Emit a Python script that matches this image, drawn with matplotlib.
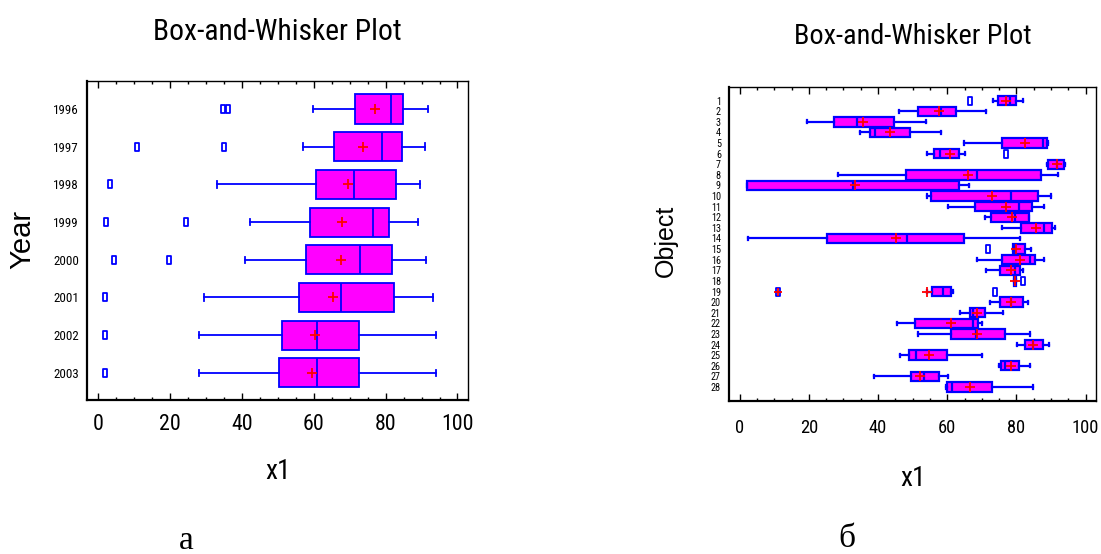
import numpy as np
import matplotlib
matplotlib.use("Agg")
import matplotlib.pyplot as plt
from matplotlib.path import Path
from matplotlib.ticker import MultipleLocator
from matplotlib import font_manager as fm
from matplotlib.font_manager import FontProperties

# ---------------- data: panel (а) ----------------
years = ["1996", "1997", "1998", "1999", "2000", "2001", "2002", "2003"]
whislo_a = [59.9, 56.9, 33.2, 42.3, 40.9, 29.5, 28.2, 28.2]
q1_a = [71.6, 65.6, 60.7, 58.9, 57.9, 55.8, 51.3, 50.3]
med_a = [81.6, 78.9, 71.3, 76.6, 72.9, 67.6, 61.0, 61.0]
q3_a = [84.9, 84.5, 83.0, 80.9, 81.9, 82.2, 72.7, 72.7]
whishi_a = [91.9, 90.9, 89.5, 89.0, 91.3, 93.1, 93.9, 93.9]
mean_a = [77.0, 73.6, 69.4, 67.9, 67.6, 65.3, 60.3, 59.5]
out_a = [[34.7, 36.1], [10.9, 34.9], [3.2], [2.2, 24.5], [4.3, 19.6], [1.9], [1.9], [1.9]]

# ---------------- data: panel (б) ----------------
objects = [str(i) for i in range(1, 29)]
whislo_b = [73.1, 46.0, 19.5, 34.8, 64.9, 54.0, 88.8, 28.3, 2.0, 54.0, 60.3, 71.0, 75.8, 2.3,
            78.9, 68.5, 71.2, 79.4, 54.1, 72.3, 63.6, 45.6, 51.5, 80.1, 46.3, 75.0, 38.7, 59.6]
q1_b = [74.8, 51.5, 27.3, 37.6, 75.9, 56.2, 89.2, 48.0, 2.0, 55.3, 68.0, 72.6, 81.2, 25.3,
        78.9, 75.9, 75.3, 79.4, 55.6, 75.3, 66.5, 50.6, 61.0, 82.6, 48.9, 75.6, 49.6, 59.9]
med_b = [78.1, 58.2, 33.9, 39.2, 87.7, 57.9, 91.6, 68.7, 32.8, 78.4, 80.6, 79.6, 88.0, 48.3,
         79.5, 84.0, 79.6, 79.7, 58.9, 78.4, 67.5, 67.4, 68.3, 84.9, 51.0, 76.7, 53.2, 61.5]
q3_b = [80.0, 62.6, 44.5, 49.3, 88.7, 63.3, 93.6, 87.0, 63.5, 86.3, 84.6, 83.6, 90.2, 64.7,
        82.6, 85.3, 80.9, 80.0, 61.0, 81.9, 71.0, 68.9, 76.8, 87.6, 59.9, 80.6, 57.5, 72.9]
whishi_b = [81.9, 71.1, 53.8, 58.1, 89.0, 65.1, 94.0, 92.0, 66.2, 90.1, 88.0, 83.6, 91.0, 81.0,
            84.3, 88.0, 82.0, 80.0, 61.7, 83.2, 76.1, 70.1, 84.0, 89.3, 70.1, 84.0, 60.1, 84.9]
mean_b = [77.0, 57.7, 35.7, 43.4, 82.4, 60.8, 91.6, 66.0, 33.2, 72.9, 77.0, 78.6, 85.7, 45.1,
          79.8, 81.0, 78.4, 79.7, 54.1, 78.4, 68.7, 61.1, 68.7, 84.9, 54.6, 78.3, 52.2, 66.6]
out_b = [[66.5], [], [], [], [], [76.9], [], [], [], [], [], [], [], [],
         [71.8], [], [], [81.8], [73.8, 11.0], [], [], [], [], [], [], [], [], []]
far_obj = [19]          # object with a far-outside point
far_val = [11.0]

BLUE = "#0000FF"
MAG = "#FF00FF"
RED = "#FF0000"

# ---------------- choose the narrowest available sans font ----------------
_entries = fm.fontManager.ttflist
_names = {f.name for f in _entries}
NARROW_FAMILY, NARROW_STRETCH = None, "normal"
for cand in ["Liberation Sans Narrow", "Arial Narrow", "Roboto Condensed",
             "Open Sans Condensed", "Nimbus Sans Narrow", "DejaVu Sans Condensed"]:
    if cand in _names:
        NARROW_FAMILY = cand
        break
if NARROW_FAMILY is None:
    for f in _entries:
        if f.name == "DejaVu Sans" and "Condensed" in f.fname and "Bold" not in f.fname \
                and "Oblique" not in f.fname:
            NARROW_FAMILY, NARROW_STRETCH = "DejaVu Sans", "condensed"
            break
if NARROW_FAMILY is None:
    NARROW_FAMILY = "Roboto" if "Roboto" in _names else "Liberation Sans"

fig = plt.figure(figsize=(11.01, 5.54), dpi=100)
_r = fig.canvas.get_renderer()


def nfp(size):
    return FontProperties(family=[NARROW_FAMILY, "DejaVu Sans"], stretch=NARROW_STRETCH,
                          size=size)


# compare chosen font width with the reference title width (233 px at 21 pt)
_t = fig.text(0, 0, "Box-and-Whisker Plot", fontproperties=nfp(21))
_w = _t.get_window_extent(_r).width
_t.remove()
K = 233.0 / _w

# largest size for the object labels whose boxes do not overlap (row pitch ~10.6 px)
_t = fig.text(0, 0, "28", fontproperties=nfp(10))
_h10 = _t.get_window_extent(_r).height
_t.remove()
OBJ_FS = min(9.0, 10.0 * 10.2 / _h10)


def nsize(base, e=0.3):
    return base * K ** e


rect = Path([(-0.55, -1.0), (0.55, -1.0), (0.55, 1.0), (-0.55, 1.0), (-0.55, -1.0)],
            [Path.MOVETO, Path.LINETO, Path.LINETO, Path.LINETO, Path.CLOSEPOLY])


def make_stats(labels, lo, q1, med, q3, hi, mean, outs):
    return [dict(label=labels[i], whislo=lo[i], q1=q1[i], med=med[i], q3=q3[i],
                 whishi=hi[i], mean=mean[i], fliers=np.array(outs[i], dtype=float))
            for i in range(len(labels))]


def draw(ax, stats, width, capw, lw, flier_ms):
    kw = dict(positions=np.arange(1, len(stats) + 1), widths=width, capwidths=capw,
              patch_artist=True, showmeans=True, meanline=False,
              boxprops=dict(facecolor=MAG, edgecolor=BLUE, linewidth=lw),
              medianprops=dict(color=BLUE, linewidth=lw),
              whiskerprops=dict(color=BLUE, linewidth=lw),
              capprops=dict(color=BLUE, linewidth=lw),
              meanprops=dict(marker="+", markeredgecolor=RED, markerfacecolor=RED,
                             markersize=7, markeredgewidth=1.3),
              flierprops=dict(marker=rect, markerfacecolor="none", markeredgecolor=BLUE,
                              markersize=flier_ms, markeredgewidth=1.3, linestyle="none"))
    try:
        ax.bxp(stats, orientation="horizontal", **kw)
    except TypeError:
        ax.bxp(stats, vert=False, **kw)


def style(ax, labels, ylabsize, xlabfs, xpad):
    ax.set_xlim(-3, 103)
    ax.xaxis.set_major_locator(MultipleLocator(20))
    ax.xaxis.set_minor_locator(MultipleLocator(5))
    ax.tick_params(axis="x", which="both", direction="in", top=True, bottom=True,
                   color="black", pad=xpad)
    ax.tick_params(axis="x", which="major", length=5, width=1.0)
    ax.tick_params(axis="x", which="minor", length=2.5, width=1.0)
    ax.set_yticks(np.arange(1, len(labels) + 1))
    ax.set_yticklabels(labels)
    ax.tick_params(axis="y", which="both", length=0, pad=6)
    for lab in ax.get_xticklabels():
        lab.set_fontproperties(nfp(nsize(xlabfs)))
    for lab in ax.get_yticklabels():
        lab.set_fontproperties(nfp(ylabsize))
    ax.spines["left"].set_linewidth(1.6)
    ax.spines["bottom"].set_linewidth(1.6)
    ax.spines["top"].set_linewidth(1.0)
    ax.spines["right"].set_linewidth(1.0)


# ---- panel (а) ----
axA = fig.add_axes([0.0793, 0.2780, 0.3460, 0.5763])
draw(axA, make_stats(years, whislo_a, q1_a, med_a, q3_a, whishi_a, mean_a, out_a),
     0.77, 0.17, 1.3, 6)
axA.set_ylim(8.72, 0.25)
style(axA, years, nsize(9.5), 16, 10)
axA.set_xlabel("x1", fontproperties=nfp(nsize(20)), labelpad=17)

# ---- panel (б) ----
axB = fig.add_axes([0.6624, 0.2767, 0.3331, 0.5657])
draw(axB, make_stats(objects, whislo_b, q1_b, med_b, q3_b, whishi_b, mean_b, out_b),
     0.88, 0.3, 1.6, 5.5)
axB.plot(far_val, far_obj, linestyle="none", marker="+", color=RED,
         markersize=6, markeredgewidth=1.3, zorder=5)
axB.set_ylim(29.3, -0.26)
style(axB, objects, OBJ_FS, 13.5, 13)
axB.set_xlabel("x1", fontproperties=nfp(nsize(20)), labelpad=20)

# ---- titles and axis names ----
W, H = 1101.0, 554.0
fig.text(277 / W, 1 - 32 / H, "Box-and-Whisker Plot", ha="center", va="center",
         fontproperties=nfp(22 * K ** 0.6))
fig.text(913 / W, 1 - 37 / H, "Box-and-Whisker Plot", ha="center", va="center",
         fontproperties=nfp(21 * K ** 0.6))
fig.text(22 / W, 1 - 239 / H, "Year", ha="center", va="center", rotation=90,
         fontsize=21, family=["Liberation Sans", "DejaVu Sans"])
fig.text(666 / W, 1 - 241 / H, "Object", ha="center", va="center", rotation=90,
         fontsize=18, family=["Liberation Sans", "DejaVu Sans"])

# ---- panel captions ----
fig.text(186 / W, 1 - 541 / H, "а", ha="center", va="center", fontsize=24,
         family=["Liberation Serif", "DejaVu Serif"])
fig.text(847 / W, 1 - 539 / H, "б", ha="center", va="center", fontsize=24,
         family=["Liberation Serif", "DejaVu Serif"])

fig.savefig("out.png", dpi=100)
